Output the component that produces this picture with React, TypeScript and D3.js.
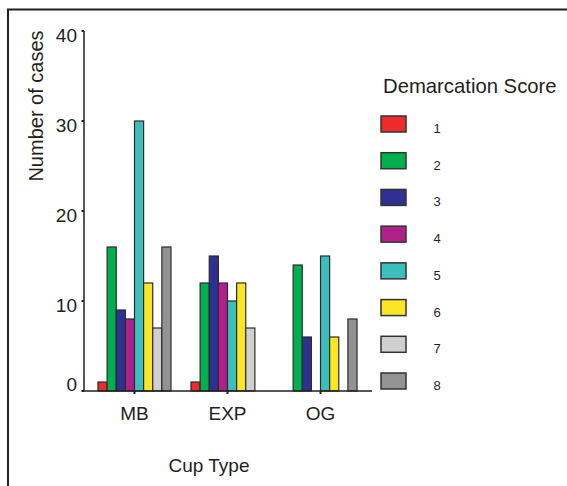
import React from "react";
import * as d3 from "d3";

const cupTypes = ["MB", "EXP", "OG"];
const scores = ["1", "2", "3", "4", "5", "6", "7", "8"];
// cases per score, one array per cup type
const mbCases = [1, 16, 9, 8, 30, 12, 7, 16];
const expCases = [1, 12, 15, 12, 10, 12, 7, 0];
const ogCases = [0, 14, 6, 0, 15, 6, 0, 8];
const yTicks = [0, 10, 20, 30, 40];

const scoreColors = [
  "#ee2a2a",
  "#00b04f",
  "#2e3192",
  "#b0208a",
  "#3bbfbd",
  "#fbe625",
  "#cfcfcf",
  "#939393",
];

const casesByCup: Record<string, number[]> = {
  MB: mbCases,
  EXP: expCases,
  OG: ogCases,
};

const W = 567;
const H = 486;
const font = "'Liberation Sans', Arial, Helvetica, sans-serif";
const ink = "#231f20";

export default function App() {
  const x0 = d3
    .scaleBand()
    .domain(cupTypes)
    .range([83, 372])
    .paddingInner(0.215)
    .paddingOuter(0.161);

  const x1 = d3.scaleBand().domain(scores).range([0, x0.bandwidth()]);

  const y = d3.scaleLinear().domain([0, 40]).range([391, 31]);

  const color = d3.scaleOrdinal<string, string>().domain(scores).range(scoreColors);

  const legendY = d3
    .scalePoint()
    .domain(scores)
    .range([116, 373]);

  return (
    <svg
      width={W}
      height={H}
      style={{ position: "absolute", left: 0, top: 0, background: "#fff" }}
      fontFamily={font}
    >
      {/* outer frame, runs off the right and bottom */}
      <rect x={8} y={9.5} width={700} height={700} fill="none" stroke={ink} strokeWidth={2} />

      {/* bars */}
      {cupTypes.map((cup) => (
        <g key={cup} transform={`translate(${x0(cup)},0)`}>
          {casesByCup[cup].map((v, i) => (
            <rect
              key={i}
              x={x1(scores[i])}
              y={y(v)}
              width={x1.bandwidth()}
              height={y(0) - y(v)}
              fill={color(scores[i])}
              stroke="#2b2b2b"
              strokeWidth={1.2}
            />
          ))}
        </g>
      ))}

      {/* y axis */}
      <line x1={84} x2={84} y1={y(40)} y2={y(0)} stroke={ink} strokeWidth={1.5} />
      {yTicks.map((t) => (
        <g key={t}>
          <line x1={81.5} x2={84} y1={y(t)} y2={y(t)} stroke={ink} strokeWidth={2} />
          <text
            x={77}
            y={y(t) + (t === 0 ? 0 : 11)}
            textAnchor="end"
            fontSize={19}
            fill={ink}
          >
            {t}
          </text>
        </g>
      ))}

      {/* x axis */}
      <line x1={83} x2={372} y1={y(0)} y2={y(0)} stroke={ink} strokeWidth={1.5} />
      {cupTypes.map((cup) => {
        const cx = (x0(cup) ?? 0) + x0.bandwidth() / 2;
        return (
          <g key={cup}>
            <line x1={cx} x2={cx} y1={y(0)} y2={y(0) + 3} stroke={ink} strokeWidth={2} />
            <text x={cx} y={420} textAnchor="middle" fontSize={19} fill={ink}>
              {cup}
            </text>
          </g>
        );
      })}

      <text x={209} y={472} textAnchor="middle" fontSize={19} fill={ink}>
        Cup Type
      </text>
      <text
        transform="translate(43,106) rotate(-90)"
        textAnchor="middle"
        fontSize={20}
        fill={ink}
      >
        Number of cases
      </text>

      {/* legend */}
      <text x={383} y={93} fontSize={20.3} fill={ink}>
        Demarcation Score
      </text>
      {scores.map((s) => (
        <g key={s} transform={`translate(381,${legendY(s)})`}>
          <rect width={25} height={16} fill={color(s)} stroke="#333" strokeWidth={1.5} />
          <text x={56} y={17} textAnchor="middle" fontSize={13} fill={ink}>
            {s}
          </text>
        </g>
      ))}
    </svg>
  );
}
